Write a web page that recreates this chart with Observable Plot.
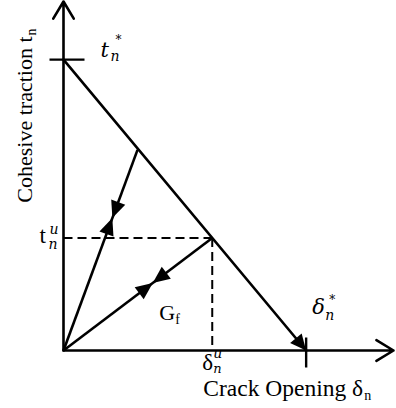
<!DOCTYPE html>
<html>
<head>
<meta charset="utf-8">
<script src="https://cdn.jsdelivr.net/npm/d3@7"></script>
<script src="https://cdn.jsdelivr.net/npm/@observablehq/plot@0.6"></script>
<style>
  body { margin: 0; background: #fff; }
  svg { display: block; }
</style>
</head>
<body>
<div id="chart"></div>
<script>
// Linear softening cohesive law: traction t_n against crack opening δ_n
const peakTraction = 1;          // t*_n
const finalOpening = 1;          // δ*_n
// points on the softening branch where unloading / reloading paths start
const unloadPoints = [
  {delta: 0.305, t: 0.69},
  {delta: 0.613, t: 0.387}       // (δ^u_n, t^u_n)
];
const axisExtent = {delta: 1.36, t: 1.2};
// fraction along each unloading path where the pair of arrowheads meet
const arrowFractions = [0.66, 0.6];

const W = 396, H = 408;
const margin = {top: 1, right: 3, bottom: 58, left: 63};
const xRange = [margin.left, W - margin.right];
const yRange = [H - margin.bottom, margin.top];
const xDomain = [0, axisExtent.delta];
const yDomain = [0, axisExtent.t];

const origin = {delta: 0, t: 0};
const peak = {delta: 0, t: peakTraction};
const failure = {delta: finalOpening, t: 0};
const ultimate = unloadPoints[1];

// screen heading (degrees clockwise from up) between two data points
const sx = Plot.scale({x: {domain: xDomain, range: xRange}});
const sy = Plot.scale({y: {domain: yDomain, range: yRange}});
function heading(a, b) {
  const dx = sx.apply(b.delta) - sx.apply(a.delta);
  const dy = sy.apply(b.t) - sy.apply(a.t);
  return Math.atan2(dx, -dy) * 180 / Math.PI;
}

// filled arrowhead with its tip at the anchor, pointing up before rotation
const arrowHead = {draw(ctx) { ctx.moveTo(0, 0); ctx.lineTo(-7.5, 17); ctx.lineTo(7.5, 17); ctx.closePath(); }};
const endHead = {draw(ctx) { ctx.moveTo(0, 0); ctx.lineTo(-7.5, 16); ctx.lineTo(7.5, 16); ctx.closePath(); }};
const tickTraction = {draw(ctx) { ctx.moveTo(-14, 0); ctx.lineTo(21, 0); }};
const tickOpening = {draw(ctx) { ctx.moveTo(-13, 0); ctx.lineTo(17, 0); }};

const endHeads = [{...failure, rotate: heading(peak, failure)}];
const pathHeads = [];
unloadPoints.forEach((p, i) => {
  const f = arrowFractions[i];
  const m = {delta: p.delta * f, t: p.t * f};
  pathHeads.push({...m, rotate: heading(p, origin)});
  pathHeads.push({...m, rotate: heading(origin, p)});
});

const serif = "'Liberation Serif','Times New Roman',serif";
const mathSerif = "'DejaVu Serif','Liberation Serif',serif";
function label(anchor, text, o) {
  return Plot.text([anchor], {
    x: "delta", y: "t", text: () => text,
    textAnchor: "start", lineAnchor: "bottom",
    fontFamily: serif, fontSize: 22, fill: "black", ...o
  });
}
const math = {fontFamily: mathSerif, fontStyle: "italic"};
const sub = 14;

const chart = Plot.plot({
  width: W,
  height: H,
  marginTop: margin.top,
  marginRight: margin.right,
  marginBottom: margin.bottom,
  marginLeft: margin.left,
  x: {domain: xDomain, range: xRange, axis: null},
  y: {domain: yDomain, range: yRange, axis: null},
  style: {background: "white", fontFamily: serif},
  marks: [
    // axes with open arrowheads
    Plot.arrow([
      {x1: 0, y1: 0, x2: axisExtent.delta, y2: 0},
      {x1: 0, y1: 0, x2: 0, y2: axisExtent.t}
    ], {x1: "x1", y1: "y1", x2: "x2", y2: "y2", stroke: "black", strokeWidth: 2.6, headLength: 11.5, headAngle: 62}),
    // dashed guides to the unloading point
    Plot.link([
      {x1: 0, y1: ultimate.t, x2: ultimate.delta, y2: ultimate.t},
      {x1: ultimate.delta, y1: ultimate.t, x2: ultimate.delta, y2: 0}
    ], {x1: "x1", y1: "y1", x2: "x2", y2: "y2", stroke: "black", strokeWidth: 2, strokeDasharray: "9,5"}),
    // softening branch
    Plot.line([peak, failure], {x: "delta", y: "t", stroke: "black", strokeWidth: 2.6}),
    // unloading / reloading paths through the origin
    Plot.link(unloadPoints, {x1: () => 0, y1: () => 0, x2: "delta", y2: "t", stroke: "black", strokeWidth: 2.6}),
    // axis ticks at t*_n and δ*_n
    Plot.dot([peak], {x: "delta", y: "t", symbol: tickTraction, stroke: "black", strokeWidth: 2.4, fill: "none"}),
    Plot.dot([failure], {x: "delta", y: "t", symbol: tickOpening, rotate: 90, stroke: "black", strokeWidth: 2.4, fill: "none"}),
    // arrowheads
    Plot.dot(endHeads, {x: "delta", y: "t", rotate: "rotate", symbol: endHead, fill: "black", stroke: "none"}),
    Plot.dot(pathHeads, {x: "delta", y: "t", rotate: "rotate", symbol: arrowHead, fill: "black", stroke: "none"}),
    // t*_n
    label(peak, "t", {dx: 37, dy: -3, fontSize: 21, ...math}),
    label(peak, "n", {dx: 47, dy: 1, fontSize: sub, ...math}),
    label(peak, "*", {dx: 52, dy: -16, fontSize: 12, fontFamily: mathSerif}),
    // δ*_n
    label(failure, "δ", {dx: 6, dy: -37, fontSize: 21, ...math}),
    label(failure, "n", {dx: 19, dy: -31, fontSize: sub, ...math}),
    label(failure, "*", {dx: 23, dy: -47, fontSize: 12, fontFamily: mathSerif}),
    // t^u_n
    label({delta: 0, t: ultimate.t}, "t", {dx: -24, dy: 5, fontSize: 23}),
    label({delta: 0, t: ultimate.t}, "u", {dx: -14, dy: -4, fontSize: sub, ...math}),
    label({delta: 0, t: ultimate.t}, "n", {dx: -15, dy: 11, fontSize: sub, ...math}),
    // δ^u_n
    label({delta: ultimate.delta, t: 0}, "δ", {dx: -10, dy: 19, fontSize: 23}),
    label({delta: ultimate.delta, t: 0}, "u", {dx: 1, dy: 7, fontSize: sub, ...math}),
    label({delta: ultimate.delta, t: 0}, "n", {dx: 1, dy: 22, fontSize: 13, ...math}),
    // fracture energy
    label({delta: ultimate.delta, t: 0}, "G", {dx: -53, dy: -31}),
    label({delta: ultimate.delta, t: 0}, "f", {dx: -37, dy: -27, fontSize: sub}),
    // axis titles
    label(failure, "Crack Opening δ", {dx: 57, dy: 45, textAnchor: "end", fontSize: 23.5}),
    label(failure, "n", {dx: 58, dy: 49, fontSize: sub}),
    Plot.text(["Cohesive traction t"], {frameAnchor: "top-left", rotate: -90, textAnchor: "end", lineAnchor: "bottom",
      dx: -32, dy: 35, fontSize: 22, fontFamily: serif, fill: "black"}),
    Plot.text(["n"], {frameAnchor: "top-left", rotate: -90, textAnchor: "start", lineAnchor: "bottom",
      dx: -28, dy: 34, fontSize: sub, fontFamily: serif, fill: "black"})
  ]
});

document.getElementById("chart").append(chart);
</script>
</body>
</html>
